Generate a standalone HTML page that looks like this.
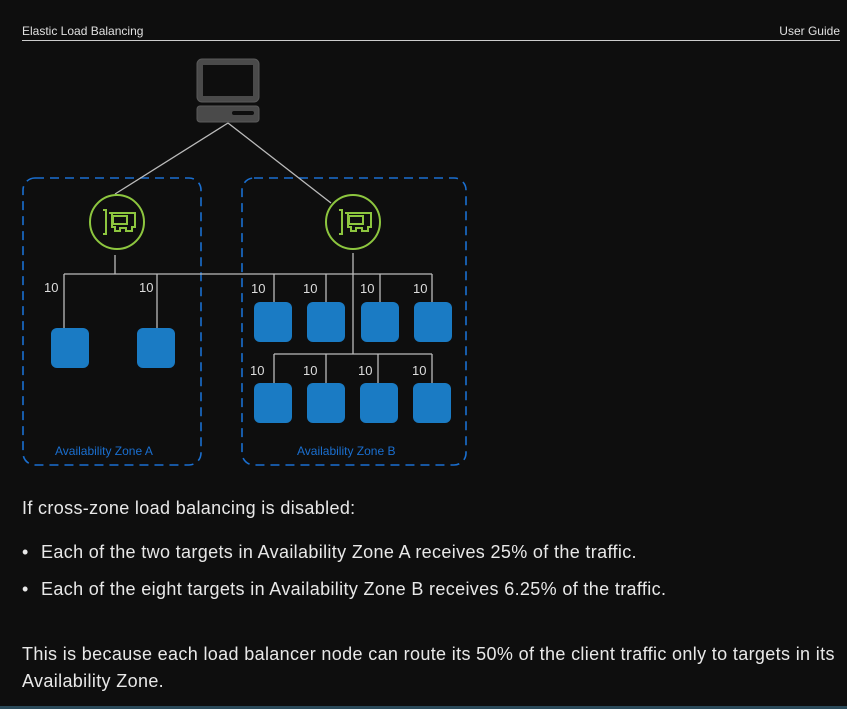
<!DOCTYPE html>
<html><head><meta charset="utf-8"><style>
html,body{margin:0;padding:0;background:#0e0e0e;width:847px;height:709px;overflow:hidden;font-family:"Liberation Sans",sans-serif;color:#e8e8e8}
.t{position:absolute;white-space:nowrap;font-size:18px;letter-spacing:0.35px}
.h{position:absolute;font-size:12px;top:24px;color:#e0e0e0}
.b{position:absolute;font-size:18px;color:#e8e8e8}
</style></head><body>
<div class="h" style="left:22px">Elastic Load Balancing</div>
<div class="h" style="right:7px">User Guide</div>
<div style="position:absolute;left:22px;top:40px;width:818px;height:1px;background:#ccc"></div>
<svg style="position:absolute;left:0;top:0" width="847" height="709">
<g fill="none" stroke="#1a6fd0" stroke-width="1.6" stroke-dasharray="9,6">
<rect x="23" y="178" width="178" height="287" rx="12"/>
<rect x="242" y="178" width="224" height="287" rx="12"/>
</g>
<g stroke="#bbb" stroke-width="1.3" fill="none">
<line x1="228" y1="123" x2="115" y2="194"/>
<line x1="228" y1="123" x2="331" y2="203"/>
<line x1="115" y1="255" x2="115" y2="274"/>
<line x1="353" y1="253" x2="353" y2="354"/>
<line x1="64" y1="274" x2="432" y2="274"/>
<line x1="64" y1="274" x2="64" y2="328"/>
<line x1="157" y1="274" x2="157" y2="328"/>
<line x1="274" y1="274" x2="274" y2="302"/>
<line x1="326" y1="274" x2="326" y2="302"/>
<line x1="380" y1="274" x2="380" y2="302"/>
<line x1="432" y1="274" x2="432" y2="302"/>
<line x1="274" y1="354" x2="432" y2="354"/>
<line x1="274" y1="354" x2="274" y2="383"/>
<line x1="326" y1="354" x2="326" y2="383"/>
<line x1="378" y1="354" x2="378" y2="383"/>
<line x1="432" y1="354" x2="432" y2="383"/>
</g>
<g fill="#4a4a4a" stroke="#5a5a5a" stroke-width="1">
<rect x="197" y="59" width="62" height="43" rx="5"/>
<rect x="197" y="106" width="62" height="16" rx="3"/>
</g>
<rect x="203" y="65" width="50" height="31" fill="#0e0e0e"/>
<rect x="232" y="111" width="22" height="4" rx="2" fill="#0e0e0e"/>
<g fill="none" stroke="#8dc63f" stroke-width="2">
<circle cx="117" cy="222" r="27"/><circle cx="353" cy="222" r="27"/>
<path d="M103 210h3v24h-3M109 213h26v14h-3v4h-6v-3h-6v3h-5v-4h-3v-14"/>
<rect x="113" y="216" width="14" height="8"/>
<path d="M339 210h3v24h-3M345 213h26v14h-3v4h-6v-3h-6v3h-5v-4h-3v-14"/>
<rect x="349" y="216" width="14" height="8"/>
</g>
<g fill="#1a7bc4">
<rect x="51" y="328" width="38" height="40" rx="6"/><rect x="137" y="328" width="38" height="40" rx="6"/>
<rect x="254" y="302" width="38" height="40" rx="6"/><rect x="307" y="302" width="38" height="40" rx="6"/>
<rect x="361" y="302" width="38" height="40" rx="6"/><rect x="414" y="302" width="38" height="40" rx="6"/>
<rect x="254" y="383" width="38" height="40" rx="6"/><rect x="307" y="383" width="38" height="40" rx="6"/>
<rect x="360" y="383" width="38" height="40" rx="6"/><rect x="413" y="383" width="38" height="40" rx="6"/>
</g>
<g fill="#ddd" font-size="13" font-family="Liberation Sans,sans-serif">
<text x="44" y="292">10</text><text x="139" y="292">10</text>
<text x="251" y="293">10</text><text x="303" y="293">10</text><text x="360" y="293">10</text><text x="413" y="293">10</text>
<text x="250" y="375">10</text><text x="303" y="375">10</text><text x="358" y="375">10</text><text x="412" y="375">10</text>
</g>
<g fill="#1a6fd0" font-size="12" font-family="Liberation Sans,sans-serif">
<text x="55" y="455">Availability Zone A</text><text x="297" y="455">Availability Zone B</text>
</g>
<rect x="0" y="706" width="847" height="3" fill="#2a4a5a"/>
</svg>
<div class="t" style="left:22px;top:498px">If cross-zone load balancing is disabled:</div>
<div class="b" style="left:22px;top:542px">•</div>
<div class="t" style="left:41px;top:542px">Each of the two targets in Availability Zone A receives 25% of the traffic.</div>
<div class="b" style="left:22px;top:579px">•</div>
<div class="t" style="left:41px;top:579px">Each of the eight targets in Availability Zone B receives 6.25% of the traffic.</div>
<div class="t" style="left:22px;top:644px">This is because each load balancer node can route its 50% of the client traffic only to targets in its</div>
<div class="t" style="left:22px;top:671px">Availability Zone.</div>
</body></html>
